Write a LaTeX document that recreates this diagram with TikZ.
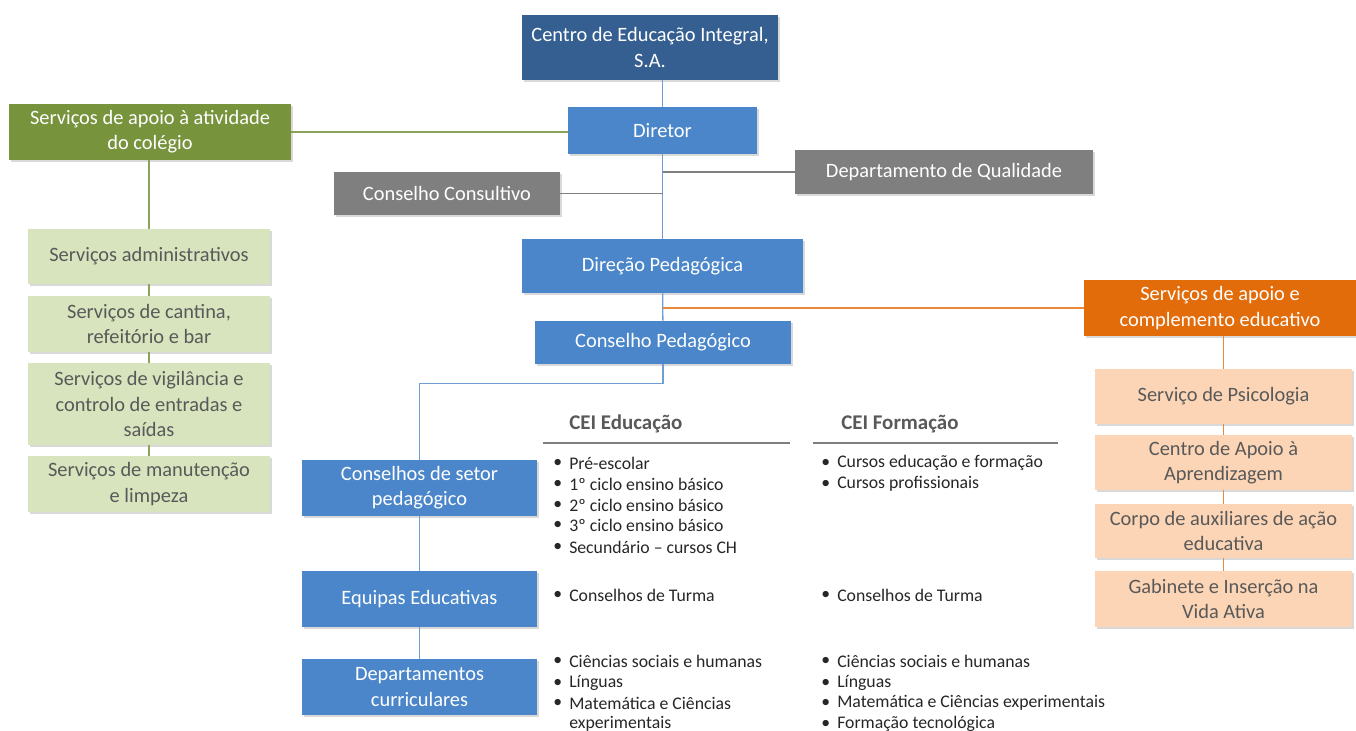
\documentclass[tikz,border=0pt]{standalone}
\usepackage{fontspec}
\setmainfont{Carlito}
\usetikzlibrary{shadows}

\definecolor{darkblue}{HTML}{355F91}
\definecolor{midblue}{HTML}{4A86C9}
\definecolor{olive}{HTML}{77933C}
\definecolor{paleolive}{HTML}{D7E4BD}
\definecolor{deeporange}{HTML}{E36C0A}
\definecolor{paleorange}{HTML}{FBD5B5}
\definecolor{boxgray}{HTML}{7F7F7F}
\definecolor{textgray}{HTML}{595959}

\begin{document}
\begin{tikzpicture}[x=0.75pt,y=-0.75pt,
    box size/.style 2 args={minimum width=#1*0.75pt,minimum height=#2*0.75pt}]
    \tikzstyle{unit}=[rectangle,inner sep=2pt,align=center,
        font=\fontsize{15.3}{19}\selectfont,
        drop shadow={shadow xshift=1.5pt,shadow yshift=-1.5pt,opacity=0.3}]
    \tikzstyle{top unit}=[unit,fill=darkblue,text=white]
    \tikzstyle{blue unit}=[unit,fill=midblue,text=white]
    \tikzstyle{gray unit}=[unit,fill=boxgray,text=white]
    \tikzstyle{green unit}=[unit,fill=olive,text=white]
    \tikzstyle{green sub}=[unit,fill=paleolive,text=textgray]
    \tikzstyle{orange unit}=[unit,fill=deeporange,text=white]
    \tikzstyle{orange sub}=[unit,fill=paleorange,text=textgray]
    \tikzstyle{blue line}=[draw=midblue!80,line width=1pt]
    \tikzstyle{gray line}=[draw=boxgray,line width=1pt]
    \tikzstyle{green line}=[draw=olive!85,line width=1pt]
    \tikzstyle{orange line}=[draw=deeporange!80,line width=1pt]
    \tikzstyle{head}=[anchor=west,inner sep=0pt,text=textgray,
        font=\fontsize{15.7}{19}\bfseries\selectfont]
    \tikzstyle{item}=[anchor=west,inner sep=0pt,text=black!85,
        font=\fontsize{13.3}{16}\selectfont]

    \useasboundingbox (0,0) rectangle (1356,731);

    % Top of the chart
    \node[top unit,box size={256}{65}] (centro) at (650,47.5) {Centro de Educação Integral,\\S.A.};
    \node[blue unit,box size={189}{47}] (diretor) at (662.5,130.5) {Diretor};
    \node[green unit,box size={282}{56}] (apoio) at (150,132) {Serviços de apoio à atividade\\do colégio};
    \node[gray unit,box size={226}{43}] (consultivo) at (447,193.5) {Conselho Consultivo};
    \node[gray unit,box size={298}{44}] (qualidade) at (944,172) {Departamento de Qualidade};
    \node[blue unit,box size={281}{54}] (direcao) at (662.5,266) {Direção Pedagógica};
    \node[blue unit,box size={256}{43}] (conselho) at (663,342.5) {Conselho Pedagógico};
    \node[orange unit,box size={272}{56}] (complemento) at (1220,308) {Serviços de apoio e\\complemento educativo};

    % Support services of the school
    \node[green sub,box size={242}{55}] (S-1) at (149,256.5) {Serviços administrativos};
    \node[green sub,box size={242}{56}] (S-2) at (149,324) {Serviços de cantina,\\refeitório e bar};
    \node[green sub,box size={242}{82}] (S-3) at (149,404) {Serviços de vigilância e\\controlo de entradas e\\saídas};
    \node[green sub,box size={242}{56}] (S-4) at (149,484) {Serviços de manutenção\\e limpeza};

    % Educational support services
    \node[orange sub,box size={257}{55}] (E-1) at (1223.5,396.5) {Serviço de Psicologia};
    \node[orange sub,box size={257}{55}] (E-2) at (1223.5,462.5) {Centro de Apoio à\\Aprendizagem};
    \node[orange sub,box size={257}{54}] (E-3) at (1223.5,531) {Corpo de auxiliares de ação\\educativa};
    \node[orange sub,box size={257}{56}] (E-4) at (1223.5,599) {Gabinete e Inserção na\\Vida Ativa};

    % Pedagogical structures
    \node[blue unit,box size={235}{56}] (P-1) at (419.5,488) {Conselhos de setor\\pedagógico};
    \node[blue unit,box size={235}{56}] (P-2) at (419.5,599) {Equipas Educativas};
    \node[blue unit,box size={235}{56}] (P-3) at (419.5,687) {Departamentos\\curriculares};

    % Connect the boxes
    \path[blue line] (diretor.north) -- (diretor.north |- centro.south);
    \path[blue line] (diretor) -- (direcao);
    \path[blue line] (direcao) -- (conselho);
    \path[green line] (apoio.east) -- (apoio.east -| diretor.west);
    \path[gray line] (consultivo.east) -- (consultivo.east -| diretor);
    \path[gray line] (qualidade.west) -- (qualidade.west -| diretor);
    \path[orange line] (complemento.west) -- (complemento.west -| direcao);
    \path[blue line] (conselho.south) -- ++(0,19) -| (P-1.north);
    \path[green line] (S-1.north) -- (S-1.north |- apoio.south);
    \path[orange line] (E-1.north) -- (E-1.north |- complemento.south);
    \foreach \source/\dest in {1/2,2/3,3/4} {
        \path[green line] (S-\source) -- (S-\dest);
        \path[orange line] (E-\source) -- (E-\dest);
    }
    \foreach \source/\dest in {1/2,2/3}
        \path[blue line] (P-\source) -- (P-\dest);

    % Column headings
    \node[head] (edu) at (569,424) {CEI Educação};
    \node[head] (form) at (841,424) {CEI Formação};
    \draw[gray line,line width=0.8pt] (543,443) -- (790,443);
    \draw[gray line,line width=0.8pt] (813,443) -- (1058,443);

    % Lists of the first column
    \foreach \y/\txt [count=\i] in {463/Pré-escolar,484/1º ciclo ensino básico,
            505/2º ciclo ensino básico,525/3º ciclo ensino básico,
            547/Secundário – cursos CH,595/Conselhos de Turma,
            661/Ciências sociais e humanas,683/Línguas,703/Matemática e Ciências} {
        \node[item] at (553,\y) {•};
        \node[item] (edu-\i) at (569,\y) {\txt};
    }
    \node[item] (edu-10) at (569,724) {experimentais};

    % Lists of the second column
    \foreach \y/\txt [count=\i] in {463/Cursos educação e formação,484/Cursos profissionais,
            595/Conselhos de Turma,661/Ciências sociais e humanas,683/Línguas,
            703/Matemática e Ciências experimentais,724/Formação tecnológica} {
        \node[item] at (821,\y) {•};
        \node[item] (form-\i) at (837,\y) {\txt};
    }
\end{tikzpicture}
\end{document}
